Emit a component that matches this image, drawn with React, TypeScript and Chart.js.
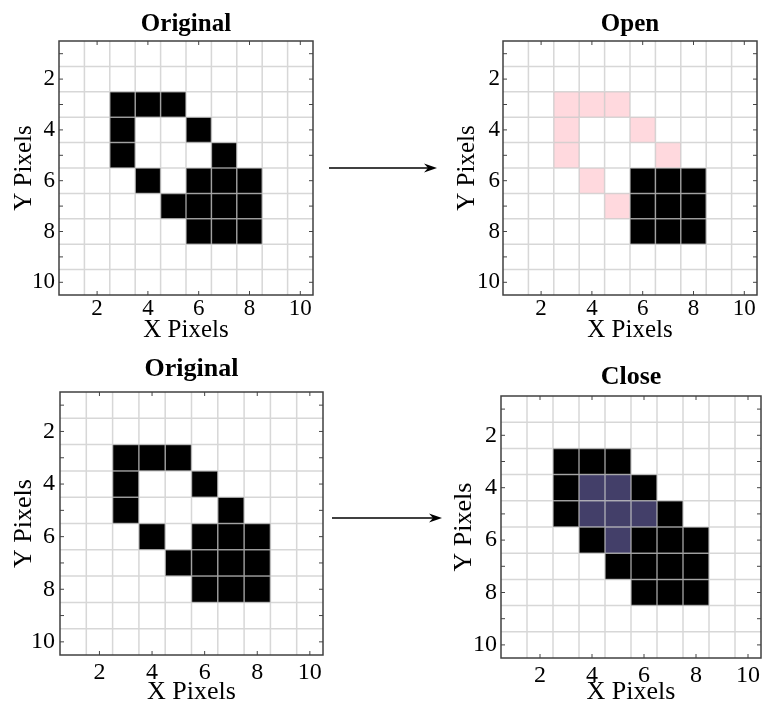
import React, { useEffect, useRef } from "react";
import { Chart, registerables } from "chart.js";

Chart.register(...registerables);

// ---------- data ----------
const AXIS_MIN = 0.5;
const AXIS_MAX = 10.5;
const X_TICK_LABELS = [2, 4, 6, 8, 10];
const Y_TICK_LABELS = [2, 4, 6, 8, 10];
const X_TICK_MARKS = [2, 4, 6, 8, 10];
const Y_TICK_MARKS = [1, 2, 3, 4, 5, 6, 7, 8, 9, 10];
const GRID_LINES = [1.5, 2.5, 3.5, 4.5, 5.5, 6.5, 7.5, 8.5, 9.5];

const X_LABEL = "X Pixels";
const Y_LABEL = "Y Pixels";

const originalPixels: [number, number][] = [
  [3, 3], [4, 3], [5, 3],
  [3, 4], [6, 4],
  [3, 5], [7, 5],
  [4, 6], [6, 6], [7, 6], [8, 6],
  [5, 7], [6, 7], [7, 7], [8, 7],
  [6, 8], [7, 8], [8, 8],
];
const openKept: [number, number][] = [
  [6, 6], [7, 6], [8, 6],
  [6, 7], [7, 7], [8, 7],
  [6, 8], [7, 8], [8, 8],
];
const openRemoved: [number, number][] = [
  [3, 3], [4, 3], [5, 3],
  [3, 4], [6, 4],
  [3, 5], [7, 5],
  [4, 6], [5, 7],
];
const closeKept: [number, number][] = [
  [3, 3], [4, 3], [5, 3],
  [3, 4], [6, 4],
  [3, 5], [7, 5],
  [4, 6], [6, 6], [7, 6], [8, 6],
  [5, 7], [6, 7], [7, 7], [8, 7],
  [6, 8], [7, 8], [8, 8],
];
const closeAdded: [number, number][] = [
  [4, 4], [5, 4],
  [4, 5], [5, 5], [6, 5],
  [5, 6],
];

// ---------- styles ----------
const BLACK = "#000000";
const PINK = "#ffd9de";
const PURPLE = "#433f69";
const FONT = "'Liberation Serif', 'Times New Roman', serif";

type Layer = { pixels: [number, number][]; color: string };
type Panel = {
  title: string;
  layers: Layer[];
  left: number; top: number; width: number; height: number;
  yw: number; xh: number; padRight: number;
  titleSize: number; titlePadTop: number; titlePadBottom: number;
  labelSize: number; tickSize: number;
  xTitlePadBottom: number; yTitlePadTop: number;
  xTickPad: number; yTickPad: number;
};

const PANELS: Panel[] = [
  {
    title: "Original",
    layers: [{ pixels: originalPixels, color: BLACK }],
    left: 0, top: 0, width: 330, height: 348,
    yw: 59, xh: 53, padRight: 17,
    titleSize: 25, titlePadTop: 9.4, titlePadBottom: 1.6,
    labelSize: 25, tickSize: 23,
    xTitlePadBottom: 3, yTitlePadTop: 9,
    xTickPad: 0.5, yTickPad: 4,
  },
  {
    title: "Open",
    layers: [
      { pixels: openRemoved, color: PINK },
      { pixels: openKept, color: BLACK },
    ],
    left: 440, top: 0, width: 322, height: 348,
    yw: 63, xh: 53, padRight: 5,
    titleSize: 25, titlePadTop: 9.4, titlePadBottom: 1.6,
    labelSize: 25, tickSize: 23,
    xTitlePadBottom: 3, yTitlePadTop: 12,
    xTickPad: 0.5, yTickPad: 3,
  },
  {
    title: "Original",
    layers: [{ pixels: originalPixels, color: BLACK }],
    left: 0, top: 348, width: 330, height: 360,
    yw: 60, xh: 53, padRight: 7,
    titleSize: 26, titlePadTop: 6.1, titlePadBottom: 6.7,
    labelSize: 26, tickSize: 24,
    xTitlePadBottom: 0.4, yTitlePadTop: 8.4,
    xTickPad: 3.6, yTickPad: 5,
  },
  {
    title: "Close",
    layers: [
      { pixels: closeKept, color: BLACK },
      { pixels: closeAdded, color: PURPLE },
    ],
    left: 440, top: 348, width: 322, height: 360,
    yw: 61, xh: 50, padRight: 1,
    titleSize: 26, titlePadTop: 13.9, titlePadBottom: 2.9,
    labelSize: 26, tickSize: 24,
    xTitlePadBottom: 0.4, yTitlePadTop: 8.4,
    xTickPad: 3.1, yTickPad: 4,
  },
];

// grid, inward ticks and frame drawn on top of the cells
const framePlugin = {
  id: "pixelFrame",
  afterDatasetsDraw(chart: any) {
    const { ctx, chartArea } = chart;
    const { left, right, top, bottom } = chartArea;
    const xs = chart.scales.x;
    const ys = chart.scales.y;
    ctx.save();
    ctx.strokeStyle = "rgba(200,200,200,0.72)";
    ctx.lineWidth = 1.5;
    ctx.beginPath();
    GRID_LINES.forEach((v) => {
      const px = xs.getPixelForValue(v);
      ctx.moveTo(px, top);
      ctx.lineTo(px, bottom);
      const py = ys.getPixelForValue(v);
      ctx.moveTo(left, py);
      ctx.lineTo(right, py);
    });
    ctx.stroke();

    const tl = 4;
    ctx.strokeStyle = "#444444";
    ctx.lineWidth = 1;
    ctx.beginPath();
    X_TICK_MARKS.forEach((v) => {
      const px = xs.getPixelForValue(v);
      ctx.moveTo(px, bottom);
      ctx.lineTo(px, bottom - tl);
      ctx.moveTo(px, top);
      ctx.lineTo(px, top + tl);
    });
    Y_TICK_MARKS.forEach((v) => {
      const py = ys.getPixelForValue(v);
      ctx.moveTo(left, py);
      ctx.lineTo(left + tl, py);
      ctx.moveTo(right, py);
      ctx.lineTo(right - tl, py);
    });
    ctx.stroke();

    ctx.strokeStyle = "#404040";
    ctx.lineWidth = 1.5;
    ctx.strokeRect(left, top, right - left, bottom - top);
    ctx.restore();
  },
};

function cellRadius(ctx: any) {
  const s = ctx.chart.scales.x;
  const t = ctx.chart.scales.y;
  if (!s || !t) return 10;
  const w = Math.abs(s.getPixelForValue(1) - s.getPixelForValue(0));
  const h = Math.abs(t.getPixelForValue(1) - t.getPixelForValue(0));
  return (w + h) / 2 / Math.SQRT2;
}

function PixelPanel({ p }: { p: Panel }) {
  const ref = useRef<HTMLCanvasElement | null>(null);
  useEffect(() => {
    if (!ref.current) return;
    const chart = new Chart(ref.current, {
      type: "scatter",
      data: {
        datasets: p.layers.map((l) => ({
          data: l.pixels.map(([x, y]) => ({ x, y })),
          pointStyle: "rect",
          backgroundColor: l.color,
          borderWidth: 0,
          pointRadius: cellRadius,
          pointHoverRadius: cellRadius,
        })),
      },
      options: {
        responsive: false,
        animation: false,
        events: [],
        layout: { padding: { top: 0, left: 0, bottom: 0, right: p.padRight } },
        plugins: {
          legend: { display: false },
          tooltip: { enabled: false },
          title: {
            display: true,
            fullSize: false,
            text: p.title,
            color: "#000",
            font: { family: FONT, size: p.titleSize, weight: "bold", lineHeight: 1.2 },
            padding: { top: p.titlePadTop, bottom: p.titlePadBottom },
          },
        },
        scales: {
          x: {
            type: "linear",
            min: AXIS_MIN,
            max: AXIS_MAX,
            grid: { display: false, drawTicks: false },
            border: { display: false },
            ticks: {
              color: "#000",
              padding: p.xTickPad,
              maxRotation: 0,
              font: { family: FONT, size: p.tickSize, lineHeight: 1.2 },
              callback: (v: any) => String(v),
            },
            title: {
              display: true,
              text: X_LABEL,
              color: "#000",
              font: { family: FONT, size: p.labelSize, lineHeight: 1.2 },
              padding: { top: 0, bottom: p.xTitlePadBottom },
            },
            afterBuildTicks: (s: any) => {
              s.ticks = X_TICK_LABELS.map((v) => ({ value: v }));
            },
            afterFit: (s: any) => {
              s.height = p.xh;
              s.paddingLeft = 0;
              s.paddingRight = 0;
            },
          },
          y: {
            type: "linear",
            reverse: true,
            min: AXIS_MIN,
            max: AXIS_MAX,
            grid: { display: false, drawTicks: false },
            border: { display: false },
            ticks: {
              color: "#000",
              padding: p.yTickPad,
              font: { family: FONT, size: p.tickSize, lineHeight: 1.2 },
              callback: (v: any) => String(v),
            },
            title: {
              display: true,
              text: Y_LABEL,
              color: "#000",
              font: { family: FONT, size: p.labelSize, lineHeight: 1.2 },
              padding: { top: p.yTitlePadTop, bottom: 0 },
            },
            afterBuildTicks: (s: any) => {
              s.ticks = Y_TICK_LABELS.map((v) => ({ value: v }));
            },
            afterFit: (s: any) => {
              s.width = p.yw;
              s.paddingTop = 0;
              s.paddingBottom = 0;
            },
          },
        },
      } as any,
      plugins: [framePlugin],
    });
    return () => chart.destroy();
  }, [p]);
  return (
    <canvas
      ref={ref}
      width={p.width}
      height={p.height}
      style={{
        position: "absolute",
        left: p.left,
        top: p.top,
        width: p.width,
        height: p.height,
      }}
    />
  );
}

function Arrow({ x1, x2, y }: { x1: number; x2: number; y: number }) {
  const hl = 13;
  const hw = 4.5;
  return (
    <g>
      <line x1={x1} y1={y} x2={x2 - 6} y2={y} stroke="#000" strokeWidth={1.6} />
      <path
        d={`M ${x2} ${y} L ${x2 - hl} ${y - hw} L ${x2 - hl + 4} ${y} L ${x2 - hl} ${y + hw} Z`}
        fill="#000"
      />
    </g>
  );
}

export default function App() {
  return (
    <div
      style={{
        position: "absolute",
        left: 0,
        top: 0,
        width: 762,
        height: 708,
        overflow: "hidden",
        background: "#fff",
      }}
    >
      {PANELS.map((p, i) => (
        <PixelPanel key={i} p={p} />
      ))}
      <svg
        width={762}
        height={708}
        style={{ position: "absolute", left: 0, top: 0, pointerEvents: "none" }}
      >
        <Arrow x1={329} x2={437} y={168} />
        <Arrow x1={332} x2={442} y={518} />
      </svg>
    </div>
  );
}
